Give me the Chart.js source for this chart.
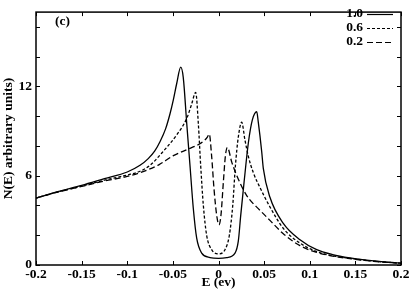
<!DOCTYPE html>
<html>
<head>
<meta charset="utf-8">
<script src="https://cdn.jsdelivr.net/npm/chart.js@4.4.0/dist/chart.umd.min.js"></script>
<style>
  html, body { margin: 0; padding: 0; background: #fff; }
  canvas { display: block; }
</style>
</head>
<body>
<canvas id="dosChart" width="415" height="291"></canvas>
<script>
// values
const seriesNames = ['1.0', '0.6', '0.2'];

const eSolid = [-0.2, -0.175, -0.15, -0.125, -0.1, -0.086, -0.077, -0.07, -0.064, -0.058, -0.0532, -0.0495, -0.0458, -0.0414,
  -0.0386, -0.0348, -0.0312, -0.0276, -0.0239, -0.0184, -0.0093, 0, 0.009, 0.0181, 0.0217, 0.0243, 0.028,
  0.0327, 0.0371, 0.0419, 0.0436, 0.0473, 0.0491, 0.0564, 0.071, 0.0893, 0.1076, 0.125, 0.144, 0.17, 0.2];
const nSolid = [4.5, 4.95, 5.35, 5.8, 6.25, 6.7, 7.15, 7.65, 8.3, 9.15, 10.15, 11.1, 12.2, 13.3,
  12.6, 9.5, 6.65, 3.8, 1.8, 0.8, 0.5, 0.45, 0.5, 0.8, 1.6, 3.3, 5.55,
  8.2, 9.75, 10.3, 9.6, 7.65, 6.5, 4.55, 2.8, 1.7, 1.03, 0.7, 0.48, 0.28, 0.12];

const eDot = [-0.2, -0.175, -0.15, -0.125, -0.1, -0.086, -0.075, -0.064, -0.0458, -0.0348, -0.0295, -0.025,
  -0.0221, -0.0195, -0.0166, -0.013, -0.0075, 0, 0.0071, 0.0119, 0.0156, 0.0185, 0.0217, 0.0254,
  0.029, 0.0327, 0.0382, 0.0455, 0.0564, 0.071, 0.0893, 0.1076, 0.125, 0.144, 0.17, 0.2];
const nDot = [4.5, 4.93, 5.3, 5.7, 6.05, 6.3, 6.7, 7.4, 8.75, 9.85, 10.8, 11.6,
  9.5, 6.65, 4.0, 2.0, 1.03, 0.75, 1.03, 2.0, 4.0, 6.65, 8.6, 9.6,
  8.4, 7.3, 6.2, 5.2, 3.9, 2.46, 1.47, 0.9, 0.62, 0.45, 0.26, 0.12];

const eDash = [-0.2, -0.175, -0.15, -0.125, -0.1, -0.086, -0.065, -0.0495, -0.035, -0.0203, -0.015, -0.0122, -0.0101,
  -0.0075, -0.0049, -0.002, 0.0005, 0.0027, 0.0053, 0.0075, 0.0097, 0.0146, 0.0201, 0.0309, 0.0455,
  0.0564, 0.071, 0.0893, 0.1076, 0.125, 0.144, 0.17, 0.2];
const nDash = [4.5, 4.92, 5.28, 5.65, 5.95, 6.2, 6.75, 7.35, 7.75, 8.15, 8.4, 8.6, 8.8,
  7.3, 5.1, 3.35, 2.7, 3.35, 5.55, 7.3, 7.9, 6.9, 6.0, 4.67, 3.67,
  3.0, 2.1, 1.3, 0.85, 0.6, 0.43, 0.25, 0.11];

const xTicks = [-0.2, -0.15, -0.1, -0.05, 0, 0.05, 0.1, 0.15, 0.2];
const yLabels = [0, 6, 12];
const yMinor = [0, 2, 4, 6, 8, 10, 12, 14, 16];

const serif = '"Liberation Serif", "DejaVu Serif", serif';
const dashes = [[], [3, 2], [6, 3]];

function pts(es, ns) {
  return es.map((e, i) => ({ x: e, y: ns[i] }));
}

// frame, inward ticks, legend and panel tag
const decorations = {
  id: 'decorations',
  afterDraw(chart) {
    const ctx = chart.ctx;
    const a = chart.chartArea;
    const xs = chart.scales.x, ys = chart.scales.y;
    ctx.save();
    ctx.strokeStyle = '#000';
    ctx.lineWidth = 1;
    ctx.beginPath();
    xTicks.forEach(v => {
      const px = Math.round(xs.getPixelForValue(v)) + 0.5;
      ctx.moveTo(px, a.bottom); ctx.lineTo(px, a.bottom - 4);
      ctx.moveTo(px, a.top); ctx.lineTo(px, a.top + 4);
    });
    yMinor.forEach(v => {
      const py = Math.round(ys.getPixelForValue(v)) + 0.5;
      ctx.moveTo(a.left, py); ctx.lineTo(a.left + 4, py);
      ctx.moveTo(a.right, py); ctx.lineTo(a.right - 4, py);
    });
    ctx.stroke();

    ctx.lineWidth = 1.5;
    ctx.strokeRect(a.left, a.top, a.right - a.left, a.bottom - a.top);

    ctx.fillStyle = '#000';
    ctx.font = 'bold 13.5px ' + serif;
    ctx.textBaseline = 'middle';
    ctx.textAlign = 'left';
    ctx.fillText('(c)', 55, 22);

    // legend
    ctx.textAlign = 'right';
    seriesNames.forEach((name, i) => {
      const y = 14 + i * 14;
      ctx.fillText(name, 363, y);
      ctx.beginPath();
      ctx.setLineDash(dashes[i]);
      ctx.lineWidth = 1.2;
      ctx.moveTo(367, y + 0.5);
      ctx.lineTo(393, y + 0.5);
      ctx.stroke();
    });
    ctx.restore();
  }
};

const ctx = document.getElementById('dosChart').getContext('2d');
new Chart(ctx, {
  type: 'line',
  data: {
    datasets: [
      { label: seriesNames[0], data: pts(eSolid, nSolid), borderDash: dashes[0] },
      { label: seriesNames[1], data: pts(eDot, nDot), borderDash: dashes[1] },
      { label: seriesNames[2], data: pts(eDash, nDash), borderDash: dashes[2] }
    ].map(d => Object.assign(d, {
      borderColor: '#000',
      borderWidth: 1.3,
      pointRadius: 0,
      fill: false,
      cubicInterpolationMode: 'monotone'
    }))
  },
  options: {
    responsive: false,
    animation: false,
    layout: { padding: { top: 9, right: 14, left: 0, bottom: 0 } },
    plugins: { legend: { display: false }, tooltip: { enabled: false } },
    scales: {
      x: {
        type: 'linear',
        min: -0.2,
        max: 0.2,
        grid: { display: false, drawTicks: false },
        border: { display: false },
        afterBuildTicks: s => { s.ticks = xTicks.map(v => ({ value: v })); },
        afterFit: s => { s.height = 26; },
        ticks: {
          padding: 1,
          color: '#000',
          maxRotation: 0,
          font: { family: serif, size: 13.5, weight: 'bold' },
          callback: v => String(Number(v.toFixed(2)))
        },
        title: {
          display: true,
          text: 'E (ev)',
          color: '#000',
          padding: { top: 0, bottom: 0 },
          font: { family: serif, size: 13.5, weight: 'bold' }
        }
      },
      y: {
        min: 0,
        max: 17,
        grid: { display: false, drawTicks: false },
        border: { display: false },
        afterBuildTicks: s => { s.ticks = yLabels.map(v => ({ value: v })); },
        afterFit: s => { s.width = 36; },
        ticks: {
          padding: 4,
          color: '#000',
          font: { family: serif, size: 13.5, weight: 'bold' }
        },
        title: {
          display: true,
          text: 'N(E) arbitrary units)',
          color: '#000',
          padding: { top: 0, bottom: 0 },
          font: { family: serif, size: 13.5, weight: 'bold' }
        }
      }
    }
  },
  plugins: [decorations]
});
</script>
</body>
</html>
